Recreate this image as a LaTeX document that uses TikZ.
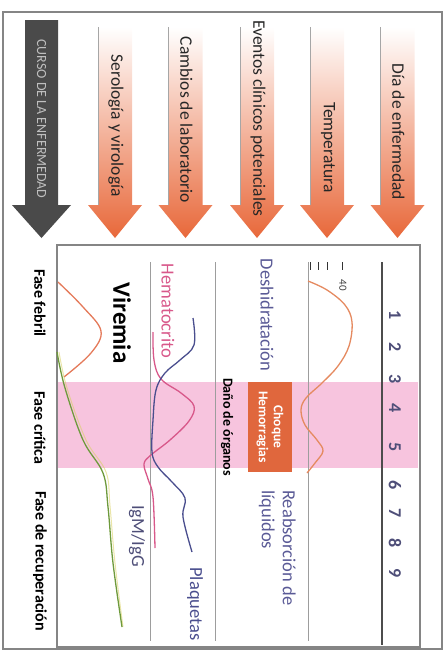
\documentclass[tikz,border=0pt]{standalone}
\usepackage{fontspec}
\setmainfont{Carlito}
\definecolor{arrowor}{HTML}{E8683A}
\definecolor{darkarrow}{HTML}{4A4A4A}
\definecolor{bandpink}{HTML}{F7C4DE}
\definecolor{boxor}{HTML}{E0673D}
\definecolor{slate}{HTML}{5A5A96}
\definecolor{hemato}{HTML}{D8588A}
\definecolor{plaq}{HTML}{4A4E8E}
\definecolor{tempc}{HTML}{E58A60}
\definecolor{virc}{HTML}{E47A5A}
\definecolor{iggc}{HTML}{6E9A3C}
\definecolor{iggy}{HTML}{D8D060}
\definecolor{numc}{HTML}{4E4E78}
\definecolor{framec}{HTML}{858585}
\begin{document}
\begin{tikzpicture}[x=1pt,y=-1pt,
  vtext/.style={rotate=-90, inner sep=0pt},
  headtxt/.style={vtext, anchor=east, text=black!85, font=\fontsize{17.5}{20}\selectfont},
  chartlbl/.style={vtext, font=\fontsize{18.5}{21}\selectfont},
  phase/.style={vtext, font=\bfseries\fontsize{16}{19}\selectfont, text=black},
  daynum/.style={vtext, font=\bfseries\fontsize{18}{20}\selectfont, text=numc},
  gridline/.style={draw=framec!80, line width=1pt},
  curve/.style={line width=1.3pt, smooth, tension=0.6}]
\useasboundingbox (0,0) rectangle (446,653);

% outer frame
\draw[framec, line width=1.2pt] (3,12) rectangle (442,649);

% header arrows: disease course (dark) and five category arrows
\fill[darkarrow] (25,20) -- (58,20) -- (58,205) -- (71,205) -- (41.5,238)
  -- (12,205) -- (25,205) -- cycle;
\node[vtext, text=black!25, font=\fontsize{14}{16}\selectfont] (curso) at (41.5,119)
  {CURSO DE LA ENFERMEDAD};

\foreach \cx/\nm/\txt/\ey in {115/sero/{Serología y virología}/197,
    185.5/lab/{Cambios de laboratorio}/203,
    257/even/{Eventos clínicos potenciales}/217,
    327/temp/{Temperatura}/193,
    397.5/dia/{Día de enfermedad}/200}{
  \shade[top color=white, middle color=arrowor!45, bottom color=arrowor]
    (\cx-17,27) -- (\cx+17,27) -- (\cx+17,205) -- (\cx+27,205) -- (\cx,238)
    -- (\cx-27,205) -- (\cx-17,205) -- cycle;
  \draw[black!35, line width=1pt] (\cx-17,27) -- (\cx-17,205);
  \node[headtxt] (\nm) at (\cx+1,\ey) {\txt};
}

% chart area
\fill[bandpink] (58,382) rectangle (418,468);
\draw[framec, line width=1.5pt] (57,245) rectangle (420,647);
\draw[black!70, line width=2.6pt] (382,262) -- (382,645);
\draw[gridline] (308,262) -- (308,641);
\draw[gridline] (215,262) -- (215,641);
\draw[gridline] (150,262) -- (150,641);

% temperature scale ticks
\foreach \tx in {310,318,327,342}
  \draw[black!80, line width=1pt] (\tx,262) -- (\tx,270);
\node[vtext, font=\fontsize{11}{12}\selectfont, text=black!75] (t40) at (343,285) {40};

% day numbers
\foreach \n/\yy in {1/315,2/347,3/379,4/408,5/447,6/485,7/513,8/543,9/573}
  \node[daynum] (d\n) at (395,\yy) {\n};

% temperature curve
\draw[tempc, curve] plot coordinates {(308,281) (327,290) (345,305) (352,322)
  (349,346) (338,366) (322,383) (306,398) (301,410) (305,425) (317,440)
  (323,451) (315,463) (307,473)};

% clinical events
\node[chartlbl, text=slate] (desh) at (267,315) {Deshidratación};
\node[fill=boxor, minimum width=44pt, minimum height=90pt, inner sep=0pt] (choquebox) at (270,427) {};
\node[vtext, align=center, text=white, font=\bfseries\fontsize{13.5}{15}\selectfont] (choque)
  at (choquebox.center) {Choque\\Hemorragias};
\node[vtext, font=\bfseries\fontsize{14}{16}\selectfont, text=black] (dano) at (227,427) {Daño de órganos};
\node[chartlbl, text=slate, align=left, anchor=north west] (reab) at (296,490)
  {Reabsorción de\\líquidos};

% laboratory changes
\node[chartlbl, text=hemato] (hto) at (168,311) {Hematocrito};
\node[chartlbl, text=plaq] (plq) at (195,604) {Plaquetas};
\draw[hemato, curve] plot coordinates {(153,332) (154,360) (161,379) (181,393)
  (194,406) (189,421) (170,440) (151,455) (144,464) (148,479) (153,497) (155,548)};
\draw[plaq, curve] plot coordinates {(193,318) (194,345) (180,360) (165,373)
  (156,390) (153,420) (152,452) (158,467) (172,482) (185,498) (183,517) (192,552)};

% serology and virology
\node[vtext, font=\bfseries\fontsize{25}{28}\selectfont, text=black] (vir) at (122,323) {Viremia};
\node[chartlbl, text=numc] (igg) at (137,536) {IgM/IgG};
\draw[virc, curve] plot coordinates {(58,282) (83,307) (101,331) (91,353) (64,377)};
\draw[iggy, curve, line width=1pt, opacity=0.55] plot coordinates {(59,352) (67,388) (86,440) (106,472)
  (110,506) (115,563) (123,627)};
\draw[iggc, curve] plot coordinates {(57,352) (65,388) (83,440) (103,473)
  (108,507) (113,563) (122,627)};

% phases
\node[phase] (febril) at (40,303) {Fase febril};
\node[phase] (critica) at (40,428) {Fase crítica};
\node[phase] (recup) at (40,561) {Fase de recuperación};
\end{tikzpicture}
\end{document}
